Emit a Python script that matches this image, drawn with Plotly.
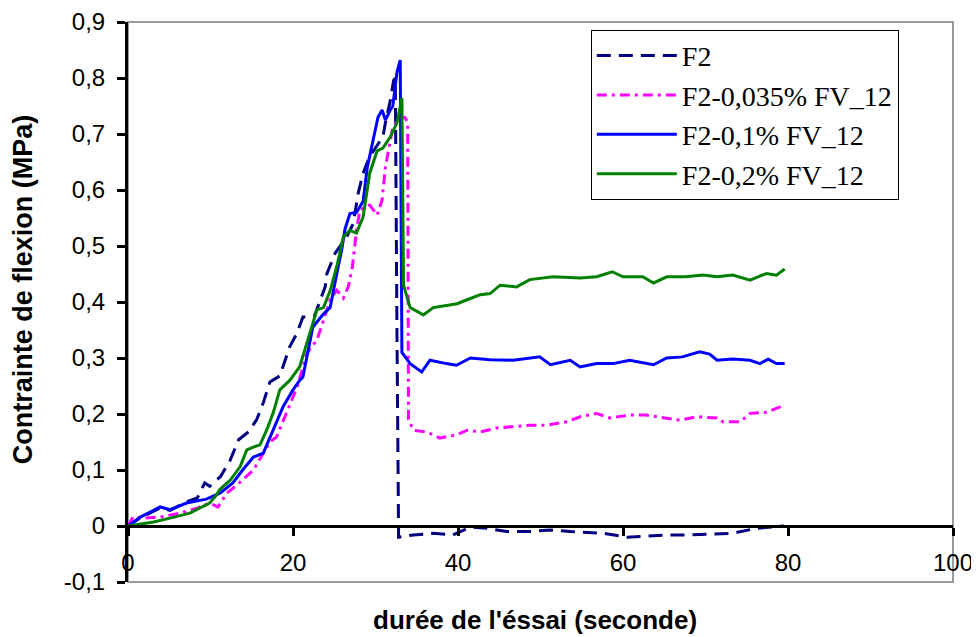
import plotly.graph_objects as go

# ---- data ----
f2_t = [0, 1.5, 3.9, 5.1, 7.1, 8.4, 9.3, 9.9, 11.2, 12.4, 13.4, 14.6, 15.6, 16.4, 17.2, 18.4,
        19.6, 20.5, 21.2, 21.8, 22.6, 23.9, 24.1, 25.1, 26.5, 27.3, 27.9, 28.5, 29.3, 30.9, 31.2,
        31.8, 32.2, 32.4, 32.6, 32.8, 34.6, 37, 39.4, 41.5, 43.5, 45.9, 48.7, 51.2, 53.6, 55.6,
        57.6, 60.5, 62.9, 65.3, 67.7, 70.5, 73.3, 76.2, 77.8, 78.6, 79.5]
f2_y = [0, 0.015, 0.032, 0.028, 0.043, 0.05, 0.077, 0.071, 0.088, 0.118, 0.154, 0.168, 0.19, 0.22,
        0.257, 0.268, 0.32, 0.345, 0.373, 0.373, 0.375, 0.427, 0.45, 0.487, 0.516, 0.54, 0.594,
        0.63, 0.66, 0.695, 0.72, 0.76, 0.796, 0.80, 0.35, -0.02, -0.016, -0.013, -0.016, -0.002,
        -0.004, -0.01, -0.01, -0.007, -0.01, -0.012, -0.013, -0.02, -0.018, -0.016, -0.016, -0.015,
        -0.013, -0.004, -0.002, -0.002, 0.0]

p035_t = [0, 0.6, 1.8, 3.9, 6.3, 8.4, 9.9, 10.9, 12, 13.2, 15.2, 16.4, 17.2, 18, 19.2, 20.5, 21.7,
          22.9, 23.6, 24.5, 25.3, 26.1, 26.7, 27.2, 27.7, 28.1, 29.3, 30.2, 30.8, 31.2, 31.8, 32.1,
          33, 33.6, 33.9, 34.0, 34.6, 36.2, 37.8, 39.9, 41.1, 42.7, 44.7, 46.7, 48.7, 50.7, 53.2,
          54.8, 56.8, 58.4, 60.8, 62.8, 64.8, 66.9, 68.9, 71.4, 72.1, 74.2, 75.4, 77.4, 79.6]
p035_y = [0, 0.016, 0.014, 0.016, 0.023, 0.032, 0.041, 0.034, 0.059, 0.073, 0.1, 0.13, 0.15, 0.159,
          0.202, 0.248, 0.309, 0.332, 0.363, 0.404, 0.421, 0.407, 0.427, 0.463, 0.528, 0.564, 0.573,
          0.555, 0.582, 0.641, 0.689, 0.713, 0.73, 0.729, 0.72, 0.19, 0.171, 0.168, 0.157, 0.163,
          0.171, 0.168, 0.175, 0.177, 0.18, 0.18, 0.186, 0.195, 0.201, 0.193, 0.198, 0.198, 0.193,
          0.189, 0.195, 0.193, 0.186, 0.186, 0.201, 0.203, 0.216]

p1_t = [0, 1.5, 3.9, 5.1, 7.1, 9.5, 11.2, 12.7, 13.9, 15.2, 16.4, 17.6, 18.8, 20, 20.8, 21.2, 22.4,
        23.6, 24.5, 25.3, 25.9, 26.3, 26.9, 27.7, 28.5, 29, 29.7, 30.3, 30.8, 31.2, 31.8, 32.1, 32.6,
        33.0, 33.2, 34.2, 35.6, 36.6, 38.6, 39.8, 41.5, 43.9, 46.7, 49.9, 51.2, 53.6, 54.8, 56.8,
        58.8, 60.8, 63.7, 65.3, 67.2, 69.3, 70.5, 71.4, 73.3, 75.4, 76.6, 77.6, 78.6, 79.6]
p1_y = [0, 0.016, 0.034, 0.029, 0.041, 0.048, 0.059, 0.077, 0.1, 0.123, 0.13, 0.171, 0.213, 0.243,
        0.26, 0.266, 0.355, 0.377, 0.39, 0.45, 0.493, 0.53, 0.558, 0.56, 0.58, 0.64, 0.69, 0.73,
        0.743, 0.725, 0.743, 0.75, 0.81, 0.832, 0.31, 0.29, 0.275, 0.296, 0.29, 0.287, 0.3, 0.297,
        0.296, 0.302, 0.288, 0.296, 0.284, 0.29, 0.29, 0.296, 0.288, 0.3, 0.302, 0.311, 0.307,
        0.296, 0.298, 0.296, 0.29, 0.298, 0.29, 0.29]

p2_t = [0, 3.1, 5.1, 7.5, 9.9, 10.7, 11.1, 12.4, 13.6, 14.4, 15.2, 16, 16.8, 17.6, 18.4, 19.6, 20.8,
        22.1, 22.9, 23.7, 24.5, 25.3, 26.1, 26.9, 27.7, 28.5, 29.3, 30.2, 30.9, 31.8, 32.6, 33.2,
        33.4, 34.2, 35.8, 37, 39.9, 41.1, 42.7, 43.9, 45.1, 47.1, 48.7, 51.5, 54.8, 56.8, 58.7, 60,
        62.4, 63.7, 65.3, 67.6, 69.7, 71.4, 73.3, 75.4, 77.4, 78.6, 79.6]
p2_y = [0, 0.007, 0.014, 0.023, 0.041, 0.055, 0.065, 0.082, 0.106, 0.136, 0.141, 0.145, 0.171, 0.202,
        0.243, 0.26, 0.284, 0.345, 0.386, 0.39, 0.42, 0.463, 0.516, 0.528, 0.523, 0.552, 0.63, 0.67,
        0.675, 0.695, 0.72, 0.764, 0.43, 0.39, 0.377, 0.39, 0.397, 0.404, 0.413, 0.415, 0.43, 0.427,
        0.44, 0.445, 0.443, 0.445, 0.454, 0.445, 0.445, 0.434, 0.445, 0.445, 0.448, 0.445, 0.448,
        0.439, 0.451, 0.448, 0.459]

series_names = ["F2", "F2-0,035% FV_12", "F2-0,1% FV_12", "F2-0,2% FV_12"]

y_tickvals = [-0.1, 0, 0.1, 0.2, 0.3, 0.4, 0.5, 0.6, 0.7, 0.8, 0.9]
y_ticktext = ["-0,1", "0", "0,1", "0,2", "0,3", "0,4", "0,5", "0,6", "0,7", "0,8", "0,9"]
x_tickvals = [0, 20, 40, 60, 80, 100]

x_title = "durée de l'éssai (seconde)"
y_title = "Contrainte de flexion (MPa)"

# ---- figure ----
fig = go.Figure()
fig.add_trace(go.Scatter(x=f2_t, y=f2_y, mode="lines", name=series_names[0],
                         line=dict(color="#000080", width=3, dash="14px,8px")))
fig.add_trace(go.Scatter(x=p035_t, y=p035_y, mode="lines", name=series_names[1],
                         line=dict(color="#FF00FF", width=3, dash="10px,5px,3px,5px")))
fig.add_trace(go.Scatter(x=p1_t, y=p1_y, mode="lines", name=series_names[2],
                         line=dict(color="#0000FF", width=3)))
fig.add_trace(go.Scatter(x=p2_t, y=p2_y, mode="lines", name=series_names[3],
                         line=dict(color="#008000", width=3)))

axis_font = dict(family="Liberation Sans, Arial", size=24, color="black")

# the page body has an 8px margin, so the figure is 8px smaller than the window
fig.update_layout(
    width=971, height=629,
    margin=dict(l=120, r=26, t=14, b=55, autoexpand=False),
    paper_bgcolor="white", plot_bgcolor="white",
    showlegend=True,
    legend=dict(x=0.561, y=0.986, xanchor="left", yanchor="top",
                bgcolor="white", bordercolor="black", borderwidth=1,
                font=dict(family="Liberation Serif, Times New Roman", size=28, color="black"),
                itemwidth=80, tracegroupgap=0),
    xaxis=dict(range=[0, 100], tickvals=x_tickvals, showgrid=False, zeroline=False,
               showline=True, linecolor="black", linewidth=3,
               ticks="outside", ticklen=8, tickwidth=3, tickcolor="black",
               tickfont=axis_font, anchor="free", position=0.1, ticklabelstandoff=6),
    yaxis=dict(range=[-0.1, 0.9], tickvals=y_tickvals, ticktext=y_ticktext,
               showgrid=False, zeroline=False,
               showline=True, linecolor="black", linewidth=3,
               ticks="outside", ticklen=8, tickwidth=3, tickcolor="black",
               tickfont=axis_font, ticklabelstandoff=7),
    shapes=[dict(type="rect", xref="paper", yref="paper", x0=0, x1=1, y0=0, y1=1,
                 line=dict(color="#999999", width=2), layer="below")],
    annotations=[
        dict(text="<b>" + x_title + "</b>", xref="paper", yref="paper", x=0.493, y=-0.068,
             xanchor="center", yanchor="middle", showarrow=False,
             font=dict(family="Liberation Sans, Arial", size=26, color="black")),
        dict(text="<b>" + y_title + "</b>", xref="paper", yref="paper", x=-0.127, y=0.523,
             xanchor="center", yanchor="middle", showarrow=False, textangle=-90,
             font=dict(family="Liberation Sans, Arial", size=27, color="black")),
    ],
)

fig.write_html("out.html")
